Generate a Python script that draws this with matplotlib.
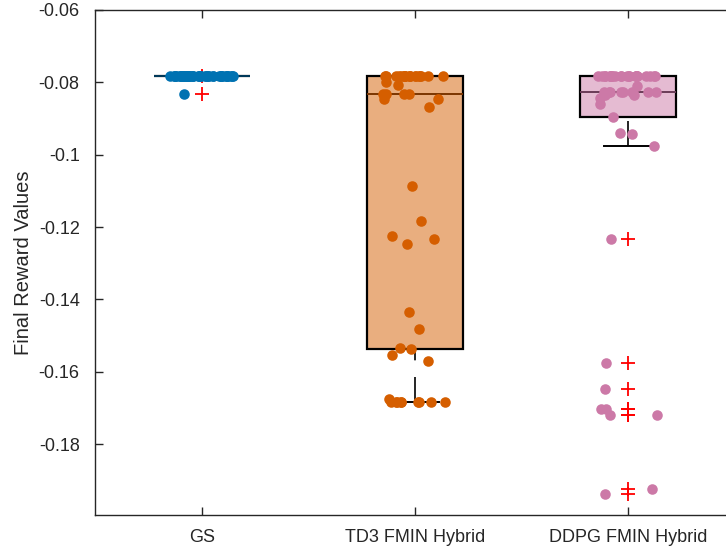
import numpy as np
import matplotlib
matplotlib.use('Agg')
import matplotlib.pyplot as plt

# group names and colours
groups = ['GS', 'TD3 FMIN Hybrid', 'DDPG FMIN Hybrid']
colors = ['#0072B2', '#D55E00', '#CC79A7']
median_colors = ['#003A5C', '#7A3500', '#6A3C57']

# final reward values (49 runs per method)
gs_values = [-0.0783] * 47 + [-0.0782, -0.0831]

td3_values = ([-0.0783] * 19 + [-0.0800, -0.0808] + [-0.0831] * 4
              + [-0.0847, -0.0847, -0.0869, -0.1086, -0.1183, -0.1225,
                 -0.1233, -0.1247, -0.1436, -0.1481, -0.1535, -0.1538,
                 -0.1553, -0.1569, -0.1675] + [-0.1683] * 9)

ddpg_values = ([-0.0783] * 23 + [-0.0811] + [-0.0828] * 8
               + [-0.0836, -0.0836, -0.0842, -0.0861, -0.0897, -0.0939,
                  -0.0942, -0.0975, -0.1233, -0.1575, -0.1647, -0.1703,
                  -0.1703, -0.1719, -0.1719, -0.1925, -0.1939])

ytick_values = [-0.18, -0.16, -0.14, -0.12, -0.1, -0.08, -0.06]
ytick_labels = ['-0.18', '-0.16', '-0.14', '-0.12', '-0.1', '-0.08', '-0.06']

data = [gs_values, td3_values, ddpg_values]

plt.rcParams['font.family'] = ['Liberation Sans', 'DejaVu Sans']

fig = plt.figure(figsize=(7.26, 5.53), dpi=100)
# axes run slightly past the right edge of the picture, as in the original
ax = fig.add_axes([95 / 726, 38 / 553, 640 / 726, 505 / 553])

positions = np.arange(1, len(groups) + 1)
bp = ax.boxplot(data, positions=positions, widths=0.45, patch_artist=True,
                whis=1.5, capwidths=0.225,
                flierprops=dict(marker='+', markeredgecolor='red',
                                markersize=10, markeredgewidth=1.3,
                                linestyle='none'))

for box, c in zip(bp['boxes'], colors):
    box.set_facecolor(matplotlib.colors.to_rgba(c, 0.5))
    box.set_edgecolor('black')
    box.set_linewidth(1.6)
    box.set_zorder(1)
for med, c in zip(bp['medians'], median_colors):
    med.set_color(c)
    med.set_linewidth(1.4)
    med.set_zorder(1.5)
for w in bp['whiskers']:
    # start the dash pattern at the whisker end, like MATLAB
    w.set_ydata(w.get_ydata()[::-1])
    w.set_color('black')
    w.set_linewidth(1.2)
    w.set_linestyle((0, (15, 10)))
    w.set_zorder(0.9)
for cap in bp['caps']:
    cap.set_color('black')
    cap.set_linewidth(1.4)
    cap.set_zorder(0.9)
for fl in bp['fliers']:
    fl.set_zorder(2)

# jittered raw points on top
rng = np.random.default_rng(2024)
for pos, vals, c in zip(positions, data, colors):
    jitter = rng.uniform(-0.15, 0.15, len(vals))
    ax.plot(pos + jitter, vals, 'o', color=c, markersize=7.6,
            markeredgewidth=0, zorder=3)

ax.set_xlim(0.5, 3.5)
ax.set_ylim(-0.1996, -0.06)
ax.set_xticks(positions)
ax.set_xticklabels(groups)
ax.set_yticks(ytick_values)
ax.set_yticklabels(ytick_labels)
ax.set_ylabel('Final Reward Values', fontsize=14.5, color='#262626', labelpad=4)

ax.tick_params(direction='in', length=5.5, width=1, colors='#262626',
               labelsize=13, top=True, right=True)
ax.tick_params(axis='y', pad=11)
ax.tick_params(axis='x', pad=10)
for s in ax.spines.values():
    s.set_color('#262626')
    s.set_linewidth(1)

fig.savefig('out.png', dpi=100)
